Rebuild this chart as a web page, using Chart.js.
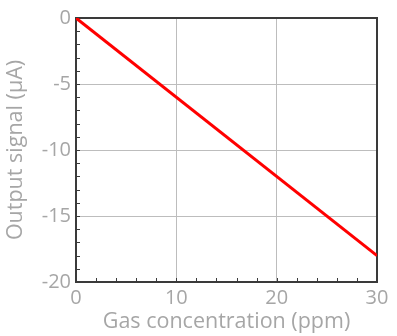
<!DOCTYPE html>
<html>
<head>
<meta charset="utf-8">
<script src="https://cdn.jsdelivr.net/npm/chart.js@4"></script>
<style>
html, body { margin: 0; padding: 0; background: #fff; }
#wrap { width: 397px; height: 336px; }
</style>
</head>
<body>
<div id="wrap"><canvas id="sensorChart" width="397" height="336"></canvas></div>
<script>
// gas concentration (ppm) vs output signal (uA)
const concentration = [0, 30];
const outputSignal = [0, -18];
const xMajorTicks = [0, 10, 20, 30];
const yMajorTicks = [0, -5, -10, -15, -20];

const axisGray = "#a6a6a6";
const frameColor = "#3a3a3a";
const gridColor = "#bdbdbd";
const fontFamily = "'Open Sans', 'Noto Sans', sans-serif";

const points = [];
for (let i = 0; i < concentration.length; i++) {
points.push({ x: concentration[i], y: outputSignal[i] });
}

// frame + inward minor ticks, drawn with the chart scales
const framePlugin = {
id: "frame",
beforeDatasetsDraw(chart) {
const ctx = chart.ctx;
const area = chart.chartArea;
const xs = chart.scales.x;
const ys = chart.scales.y;
ctx.save();
ctx.strokeStyle = frameColor;
ctx.lineWidth = 1;
for (let v = xs.min; v <= xs.max; v += 2) {
const px = Math.round(xs.getPixelForValue(v)) + 0.5;
ctx.beginPath();
ctx.moveTo(px, area.bottom);
ctx.lineTo(px, area.bottom - 4);
ctx.stroke();
}
for (let v = ys.min; v <= ys.max; v += 1) {
const py = Math.round(ys.getPixelForValue(v)) + 0.5;
ctx.beginPath();
ctx.moveTo(area.left, py);
ctx.lineTo(area.left + 4, py);
ctx.stroke();
}
ctx.lineWidth = 2;
ctx.strokeRect(area.left, area.top, area.right - area.left, area.bottom - area.top);
ctx.restore();
}
};

new Chart(document.getElementById("sensorChart"), {
type: "scatter",
data: {
datasets: [
{
data: points,
showLine: true,
borderColor: "#ff0000",
backgroundColor: "#ff0000",
borderWidth: 3,
pointRadius: 0
}
]
},
options: {
responsive: false,
animation: false,
layout: {
padding: { top: 18, right: 20, left: 0, bottom: 0 }
},
plugins: {
legend: { display: false },
tooltip: { enabled: false }
},
scales: {
x: {
type: "linear",
min: 0,
max: 30,
afterBuildTicks: scale => {
scale.ticks = xMajorTicks.map(v => ({ value: v }));
},
afterFit: scale => {
scale.height = 54;
},
grid: {
color: gridColor,
lineWidth: 1,
drawTicks: false
},
border: { display: false },
ticks: {
color: axisGray,
padding: 4,
font: { family: fontFamily, size: 20 }
},
title: {
display: true,
text: "Gas concentration (ppm)",
color: axisGray,
padding: { top: 0, bottom: 1 },
font: { family: fontFamily, size: 21.5 }
}
},
y: {
type: "linear",
min: -20,
max: 0,
afterBuildTicks: scale => {
scale.ticks = yMajorTicks.map(v => ({ value: v }));
},
afterFit: scale => {
scale.width = 76;
},
grid: {
color: gridColor,
lineWidth: 1,
drawTicks: false
},
border: { display: false },
ticks: {
color: axisGray,
padding: 5,
font: { family: fontFamily, size: 20 }
},
title: {
display: true,
text: "Output signal (µA)",
color: axisGray,
padding: { top: 3, bottom: 0 },
font: { family: fontFamily, size: 21.5 }
}
}
}
},
plugins: [framePlugin]
});
</script>
</body>
</html>
